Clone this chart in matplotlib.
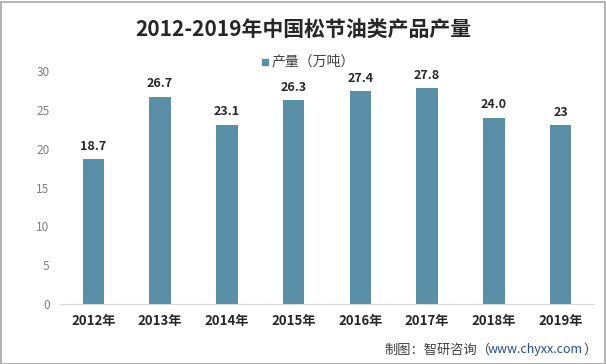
import matplotlib.pyplot as plt
from matplotlib.patches import Rectangle

plt.rcParams['font.family'] = ['Noto Sans CJK SC', 'DejaVu Sans']

# data
years = ["2012年", "2013年", "2014年", "2015年", "2016年", "2017年", "2018年", "2019年"]
values = [18.7, 26.7, 23.1, 26.3, 27.4, 27.8, 24.0, 23]
labels = ["18.7", "26.7", "23.1", "26.3", "27.4", "27.8", "24.0", "23"]

bar_color = "#5b8fa8"

fig = plt.figure(figsize=(6.06, 3.64), dpi=100)
ax = fig.add_axes([60 / 606, 60 / 364, 534 / 606, 233 / 364])

x = range(len(years))
ax.bar(x, values, width=0.32, color=bar_color)
for i, v in enumerate(values):
    ax.text(i, v + 0.8, labels[i], ha="center", va="bottom",
            fontsize=9, fontweight="bold", color="#262626")

ax.set_xlim(-0.5, len(years) - 0.5)
ax.set_ylim(0, 30)
ax.set_yticks(range(0, 31, 5))
ax.set_xticks(list(x))
ax.set_xticklabels(years, fontsize=9.5, fontweight="bold", color="#262626")
ax.tick_params(axis="y", labelsize=8.5, labelcolor="#7f7f7f", length=0, pad=7.5)
ax.tick_params(axis="x", length=0, pad=7)
for s in ["top", "right", "left"]:
    ax.spines[s].set_visible(False)
ax.spines["bottom"].set_color("#d9d9d9")

# title, legend, source
fig.text(0.5, 1 - 30 / 364, "2012-2019年中国松节油类产品产量", ha="center", va="center",
         fontsize=15, fontweight="bold", color="#262626")
fig.patches.append(Rectangle((262 / 606, 1 - 65 / 364), 6 / 606, 6 / 364,
                             transform=fig.transFigure, color=bar_color))
fig.text(272 / 606, 1 - 61 / 364, "产量（万吨）", ha="left", va="center",
         fontsize=10, color="#404040")
fig.text(490 / 606, 1 - 350 / 364, "制图：智研咨询（", ha="right", va="center",
         fontsize=9.5, color="#404040")
fig.text(488 / 606, 1 - 350 / 364, "www.chyxx.com", ha="left", va="center",
         fontsize=9, color="#1f4e9a")
fig.text(583 / 606, 1 - 350 / 364, "）", ha="left", va="center",
         fontsize=9.5, color="#404040")

# outer frame
fig.patches.append(Rectangle((0.5 / 606, 0.5 / 364), 1 - 2 / 606, 1 - 2 / 364,
                             transform=fig.transFigure, fill=False,
                             edgecolor="#a6a6a6", linewidth=1.2))

fig.savefig("out.png", dpi=100)
